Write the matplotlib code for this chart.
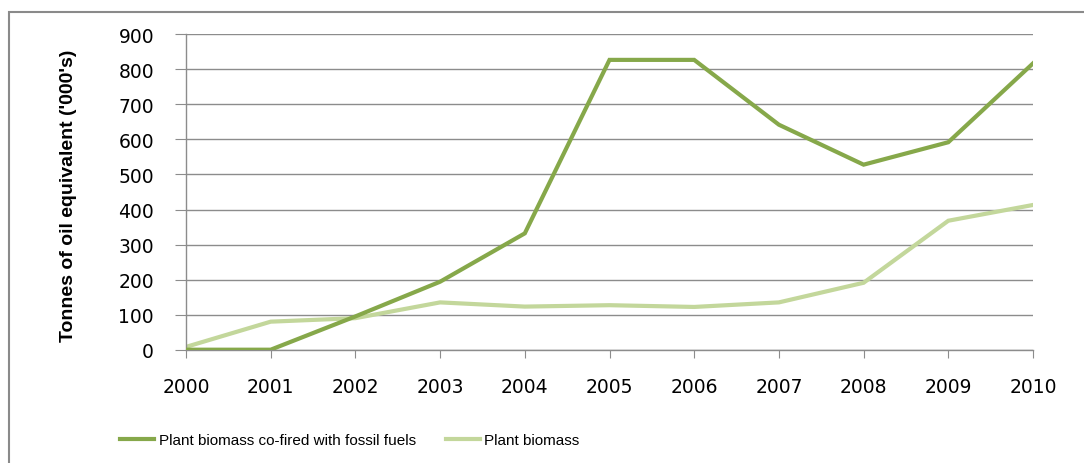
import matplotlib.pyplot as plt
from matplotlib.patches import Rectangle

years = [2000, 2001, 2002, 2003, 2004, 2005, 2006, 2007, 2008, 2009, 2010]
cofired = [0, 0, 95, 194, 332, 827, 827, 642, 528, 592, 817]
biomass = [8, 80, 90, 135, 123, 127, 122, 135, 191, 368, 413]

dark_green = '#86a84a'
light_green = '#c3d79b'
grid_gray = '#8c8c8c'

fig = plt.figure(figsize=(10.84, 4.64), dpi=100)

# outer chart border (cut off on the right and bottom in the original)
fig.patches.append(Rectangle((9/1084, -0.05), 1.2, 1.05 - 13/464,
                             transform=fig.transFigure, fill=False,
                             edgecolor='#8a8a8a', linewidth=1.5))

ax = fig.add_axes([186/1084, 1 - 350.7/464, (1033 - 186)/1084, (350.7 - 35.3)/464])

ax.plot(years, cofired, color=dark_green, linewidth=3, label='Plant biomass co-fired with fossil fuels',
        solid_joinstyle='miter', zorder=3)
ax.plot(years, biomass, color=light_green, linewidth=3, label='Plant biomass',
        solid_joinstyle='miter', zorder=2)

ax.set_xlim(2000, 2010)
ax.set_ylim(0, 900)
ax.set_yticks(range(0, 901, 100))
ax.set_xticks(years)
ax.set_xticklabels([str(y) for y in years])

ax.yaxis.grid(True, color=grid_gray, linewidth=1.0)
ax.set_axisbelow(True)
for side in ['top', 'right']:
    ax.spines[side].set_visible(False)
for side in ['left', 'bottom']:
    ax.spines[side].set_color(grid_gray)
    ax.spines[side].set_linewidth(1.0)

ax.tick_params(axis='y', length=8, color=grid_gray, labelsize=13.5, pad=15)
ax.tick_params(axis='x', length=6, color=grid_gray, labelsize=13.5, pad=14)
for lab in ax.get_xticklabels() + ax.get_yticklabels():
    lab.set_family('DejaVu Sans')

ax.set_ylabel("Tonnes of oil equivalent ('000's)", fontsize=14, fontweight='bold',
              family='Liberation Sans')
ax.yaxis.set_label_coords(-(186 - 77) / 847, 0.49)

leg = fig.legend(loc='center', ncol=2, frameon=False,
                 prop={'family': 'Liberation Sans', 'size': 11},
                 handlelength=2.2, columnspacing=2.0, handletextpad=0.3)
leg.set_bbox_to_anchor((350/1084, 1 - 441/464), transform=fig.transFigure)

fig.savefig('out.png', dpi=100)
